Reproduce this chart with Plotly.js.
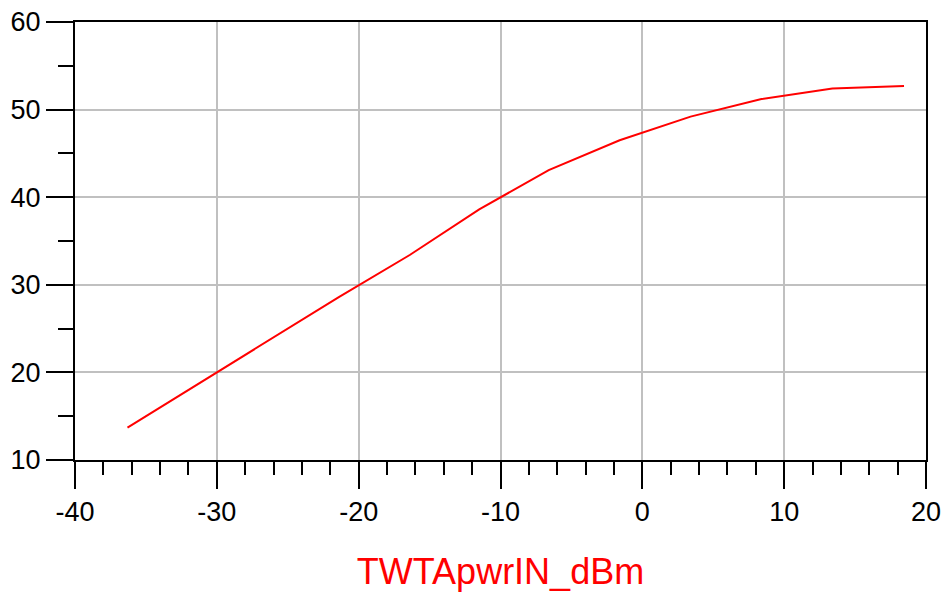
<!DOCTYPE html>
<html>
<head>
<meta charset="utf-8">
<script src="https://cdn.plot.ly/plotly-3.0.1.min.js"></script>
<style>
html,body{margin:0;padding:0;background:#fff;}
#chart{width:952px;height:594px;}
</style>
</head>
<body>
<div id="chart"></div>
<script>
const pwrIn = [-36.3, -31.3, -26.4, -21.4, -16.4, -11.5, -6.6, -1.6, 3.4, 8.4, 13.4, 18.45];
const pwrOut = [13.7, 18.7, 23.6, 28.6, 33.4, 38.6, 43.1, 46.5, 49.2, 51.2, 52.4, 52.7];
const xTitle = "TWTApwrIN_dBm";
const xTickVals = [-40, -30, -20, -10, 0, 10, 20];
const xTickText = ["-40", "-30", "-20", "-10", "0", "10", "20"];
const yTickVals = [10, 20, 30, 40, 50, 60];
const yTickText = ["10", "20", "30", "40", "50", "60"];

const trace = {
  x: pwrIn,
  y: pwrOut,
  type: "scatter",
  mode: "lines",
  line: {color: "#ff0000", width: 2},
  hoverinfo: "x+y",
  showlegend: false
};

const axisCommon = {
  showline: true,
  linecolor: "#000",
  linewidth: 2,
  mirror: true,
  showgrid: true,
  gridcolor: "#c0c0c0",
  gridwidth: 2,
  zeroline: false,
  ticks: "outside",
  ticklen: 27,
  tickwidth: 2,
  tickcolor: "#000",
  tickmode: "array",
  tickfont: {family: "Liberation Sans, Arial, sans-serif", size: 27, color: "#000"}
};

const layout = {
  width: 952,
  height: 594,
  margin: {l: 75, r: 26, t: 22, b: 134},
  paper_bgcolor: "#fff",
  plot_bgcolor: "#fff",
  xaxis: Object.assign({}, axisCommon, {
    range: [-40, 20],
    tickvals: xTickVals,
    ticktext: xTickText,
    minor: {tickmode: "linear", tick0: -40, dtick: 2, ticklen: 13, tickwidth: 2, tickcolor: "#000", ticks: "outside", showgrid: false},
    title: {text: xTitle, font: {family: "Liberation Sans, Arial, sans-serif", size: 36, color: "#ff0000"}, standoff: 32}
  }),
  yaxis: Object.assign({}, axisCommon, {
    range: [10, 60],
    tickvals: yTickVals,
    ticktext: yTickText,
    minor: {tickmode: "linear", tick0: 10, dtick: 5, ticklen: 15, tickwidth: 2, tickcolor: "#000", ticks: "outside", showgrid: false}
  })
};

Plotly.newPlot("chart", [trace], layout, {displayModeBar: false, staticPlot: true});
</script>
</body>
</html>
